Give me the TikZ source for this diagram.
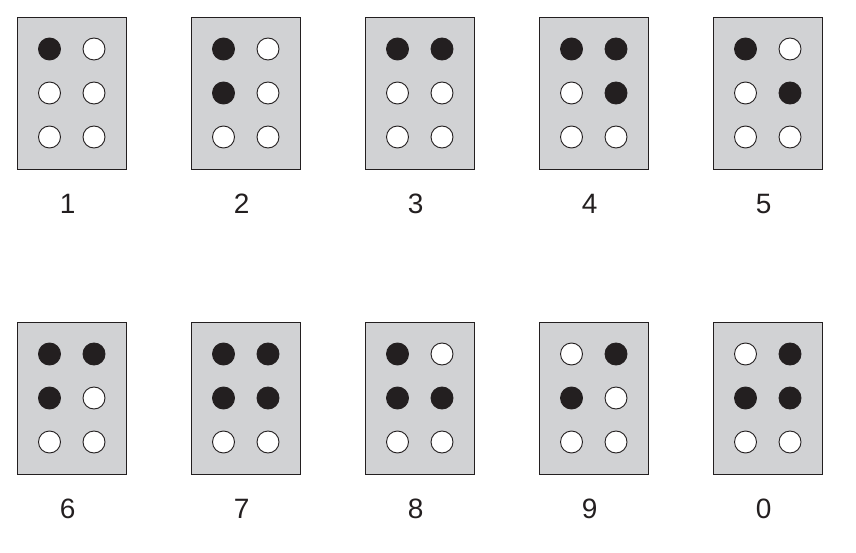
\documentclass[tikz,border=0pt]{standalone}
\usepackage{fontspec}
\setmainfont{Liberation Sans}
\definecolor{cellgray}{RGB}{209,210,212}
\definecolor{dotblack}{RGB}{35,31,32}
\tikzset{
  cell/.style={draw=dotblack, line width=1.1pt, fill=cellgray, minimum width=109pt, minimum height=152pt, inner sep=0pt, anchor=north west},
  dotoff/.style={circle, draw=dotblack, line width=0.9pt, fill=white, minimum size=22pt, inner sep=0pt},
  doton/.style={circle, draw=dotblack, line width=0.9pt, fill=dotblack, minimum size=22pt, inner sep=0pt},
  digit/.style={font=\fontsize{28}{32}\selectfont, text=dotblack, inner sep=0pt}
}
\begin{document}
\begin{tikzpicture}[x=1pt,y=-1pt]
\useasboundingbox (0,0) rectangle (856,553);
% list: name / col / row / label / pattern (1..6 on or off)
\foreach \n/\c/\r/\lab/\a/\b/\cc/\d/\e/\f in {
  c1/0/0/1/1/0/0/0/0/0,
  c2/1/0/2/1/1/0/0/0/0,
  c3/2/0/3/1/0/0/1/0/0,
  c4/3/0/4/1/0/0/1/1/0,
  c5/4/0/5/1/0/0/0/1/0,
  c6/0/1/6/1/1/0/1/0/0,
  c7/1/1/7/1/1/0/1/1/0,
  c8/2/1/8/1/1/0/0/1/0,
  c9/3/1/9/0/1/0/1/0/0,
  c0/4/1/0/0/1/0/1/1/0}{
  \pgfmathsetmacro{\bx}{17+174*\c}
  \pgfmathsetmacro{\by}{17+305*\r}
  \node[cell] (\n) at (\bx,\by) {};
  \foreach \k/\v/\dx/\dy in {1/\a/32.5/32, 2/\b/32.5/76, 3/\cc/32.5/120, 4/\d/77/32, 5/\e/77/76, 6/\f/77/120}{
    \ifnum\v=1
      \node[doton] (\n-\k) at ([xshift=\dx pt, yshift=-\dy pt]\n.north west) {};
    \else
      \node[dotoff] (\n-\k) at ([xshift=\dx pt, yshift=-\dy pt]\n.north west) {};
    \fi
  }
  \node[digit] (\n-lab) at ([xshift=-4.5pt, yshift=-34pt]\n.south) {\lab};
}
\end{tikzpicture}
\end{document}
